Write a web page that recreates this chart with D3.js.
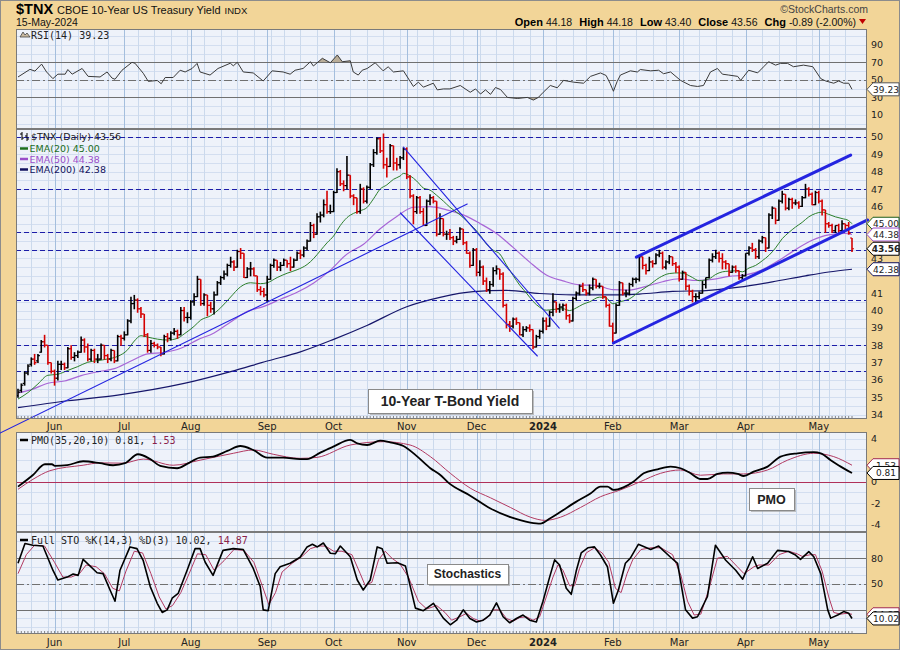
<!DOCTYPE html>
<html>
<head>
<meta charset="utf-8">
<script src="https://d3js.org/d3.v7.min.js"></script>
<style>
  html, body { margin: 0; padding: 0; background: #f2d598; }
  svg text { font-family: "DejaVu Sans", Verdana, sans-serif; fill: #222; }
  .mono { font-family: "DejaVu Sans Mono", monospace; }
  .arial { font-family: "Liberation Sans", Arial, sans-serif; }
</style>
</head>
<body>
<div id="vis"></div>
<script>
// trading calendar
var firstDay = '2023-05-16';
var lastDay = '2024-05-15';
var holidays = ['2023-05-29', '2023-06-19', '2023-07-04', '2023-09-04', '2023-11-23',
  '2023-12-25', '2024-01-01', '2024-01-15', '2024-02-19', '2024-03-29'];

// daily bars of $TNX (one value per trading day, month by month)
var opens = [
  35.1,35.4,35.8,36.4,36.9,37.2,37.1,37.6,38.2,38.0,37.0,
  36.5,36.1,36.9,36.9,36.7,37.8,37.3,37.4,37.6,38.3,37.9,37.2,37.7,37.2,37.2,38.0,37.4,37.2,37.7,37.1,38.5,
  38.4,38.6,39.4,40.4,40.6,40.1,39.8,38.6,37.7,38.1,38.0,37.9,37.5,38.5,38.4,38.7,38.8,38.6,40.0,39.6,
  39.6,40.5,40.8,41.8,40.4,40.9,40.3,40.1,40.9,41.6,41.9,42.1,42.6,42.8,42.5,43.4,43.3,41.9,42.4,42.4,42.0,41.2,41.1,
  40.9,41.8,42.6,42.9,42.5,42.6,42.9,42.7,42.5,42.9,43.3,43.2,43.6,44.0,44.9,44.4,45.4,45.5,46.1,45.7,
  45.7,46.8,48.0,47.3,47.2,47.8,46.6,46.5,45.7,47.0,46.3,47.1,48.4,49.1,49.9,49.2,48.4,48.3,49.5,48.5,48.4,48.8,
  49.3,47.7,46.6,45.7,46.5,45.7,44.9,46.3,46.5,46.3,44.4,45.3,44.4,44.4,44.2,44.0,44.1,44.7,43.9,43.3,42.6,
  43.5,42.2,42.5,41.7,41.2,41.5,42.3,42.4,42.1,40.3,39.2,39.1,39.5,39.3,38.6,38.9,39.0,38.9,37.9,38.5,
  38.8,39.4,39.1,39.9,40.5,40.1,40.2,40.3,39.7,39.4,40.7,41.0,41.4,41.2,41.0,41.3,41.8,41.4,41.4,40.8,40.3,
  39.1,38.7,40.3,41.6,41.0,41.0,41.5,41.8,41.8,43.1,42.6,42.3,42.8,42.7,43.2,43.3,42.5,42.8,43.1,42.7,
  42.5,41.8,42.2,41.4,41.1,40.8,40.8,41.0,41.5,41.9,42.9,43.1,43.3,43.0,42.8,42.7,42.2,42.5,42.3,41.9,
  42.0,43.3,43.6,43.5,43.1,44.0,44.2,43.6,45.5,45.9,45.2,46.3,46.7,45.9,46.4,46.2,46.2,46.0,46.5,47.0,46.7,46.1,
  46.8,46.3,45.8,45.0,44.9,44.6,44.9,44.6,45.0,44.9,44.18
];
var highs = [
  35.5,35.8,36.5,36.9,37.3,37.5,37.5,38.3,38.6,38.0,37.0,
  36.6,37.1,37.1,37.0,37.9,38.0,37.6,37.7,38.5,38.4,38.1,37.8,37.8,37.5,38.1,38.0,37.5,37.8,37.7,38.6,38.6,
  38.8,39.5,40.8,40.9,40.7,40.2,39.8,38.7,38.3,38.2,38.1,37.9,38.6,38.7,38.8,39.0,38.9,40.2,40.2,39.9,
  40.6,41.0,42.0,41.8,41.0,40.9,40.5,41.1,41.7,42.0,42.3,42.7,43.1,42.9,43.5,43.6,43.3,42.5,42.8,42.5,42.0,41.4,41.3,
  42.0,42.7,43.0,42.9,42.8,43.0,42.9,43.1,43.0,43.4,43.5,43.7,44.1,45.1,45.0,45.6,45.7,46.4,46.9,46.1,
  46.9,48.2,48.1,47.5,48.9,47.8,46.7,46.5,47.3,47.1,47.2,48.5,49.3,49.97,49.97,50.2,48.8,49.6,49.5,48.8,48.9,49.4,
  49.4,47.8,46.7,46.6,46.6,45.9,46.4,46.7,46.6,46.3,45.6,45.3,44.6,44.7,44.3,44.3,44.8,44.7,44.0,43.4,43.6,
  43.6,42.9,42.6,41.9,41.7,42.5,42.6,42.4,42.2,40.4,39.4,39.6,39.6,39.3,39.1,39.1,39.2,38.9,38.6,38.9,
  39.6,39.6,40.0,41.0,40.5,40.4,40.4,40.4,39.8,40.8,41.1,41.5,41.6,41.2,41.5,41.9,41.8,41.6,41.4,40.8,40.4,
  39.3,40.4,41.7,41.6,41.2,41.6,41.9,41.9,43.2,43.1,42.7,43.1,42.9,43.3,43.5,43.4,42.9,43.2,43.1,42.8,
  42.6,42.3,42.2,41.5,41.2,41.0,41.1,41.7,41.9,43.0,43.3,43.5,43.4,43.3,42.9,42.7,42.6,42.6,42.3,42.1,
  43.3,43.7,43.9,43.6,44.1,44.3,44.2,45.6,46.0,45.9,46.4,46.9,46.7,46.5,46.5,46.4,46.3,46.6,47.3,47.1,46.8,46.9,
  46.9,46.4,45.8,45.1,45.0,44.9,45.0,45.2,45.0,45.1,44.18
];
var lows = [
  35.0,35.3,35.7,36.3,36.8,36.9,37.0,37.6,37.9,36.9,36.4,
  35.7,36.0,36.6,36.6,36.7,37.2,37.1,37.3,37.6,37.6,37.1,37.1,37.0,37.0,37.2,37.2,37.0,37.1,37.0,37.1,38.0,
  38.3,38.6,39.3,40.1,39.9,39.6,38.5,37.6,37.6,37.9,37.8,37.4,37.5,38.2,38.3,38.6,38.4,38.6,39.4,39.3,
  39.5,40.3,40.8,40.3,40.3,39.7,39.9,39.8,40.9,41.5,41.8,42.0,42.5,42.3,42.5,43.0,41.9,41.9,42.0,42.0,41.1,40.9,40.8,
  40.5,41.8,42.5,42.3,42.3,42.6,42.5,42.3,42.5,42.9,43.0,43.1,43.5,44.0,44.2,44.4,45.1,45.4,45.6,45.6,
  45.7,46.8,47.2,46.9,47.0,46.5,46.1,45.6,45.6,46.2,46.2,47.0,48.3,49.0,49.1,48.2,47.7,48.3,48.1,48.1,48.2,48.7,
  47.6,46.5,45.0,45.6,45.6,44.9,44.9,46.1,46.2,44.3,44.4,44.3,44.1,44.1,43.8,43.9,44.1,43.8,43.3,42.5,42.6,
  42.0,42.0,41.5,41.1,41.0,41.4,42.1,41.8,40.2,39.0,38.8,39.0,39.2,38.6,38.5,38.8,38.8,37.8,37.9,38.4,
  38.7,38.9,39.1,39.7,39.9,39.9,40.0,39.5,39.3,39.4,40.6,40.9,41.1,40.9,40.9,41.2,41.3,41.3,40.7,40.2,39.1,
  38.2,38.7,40.3,40.9,40.8,40.9,41.4,41.6,41.7,42.4,42.1,42.3,42.5,42.7,43.1,42.4,42.4,42.7,42.6,42.2,
  41.7,41.8,41.2,40.9,40.5,40.4,40.7,41.0,41.3,41.9,42.8,43.0,42.8,42.4,42.4,42.0,42.2,42.2,41.8,41.8,
  42.0,43.2,43.4,43.0,43.0,43.9,43.4,43.6,45.3,45.0,45.2,46.2,45.8,45.8,45.9,46.1,45.9,46.0,46.5,46.6,46.1,46.1,
  46.2,45.5,44.5,44.8,44.5,44.5,44.4,44.5,44.7,44.4,43.40
];
var closes = [
  35.3,35.7,36.4,36.8,37.2,37.0,37.4,38.2,38.0,37.0,36.5,
  36.1,36.9,36.9,36.7,37.8,37.3,37.4,37.6,38.3,37.9,37.2,37.7,37.2,37.2,38.0,37.4,37.2,37.7,37.1,38.5,38.4,
  38.6,39.4,40.4,40.6,40.1,39.8,38.6,37.7,38.1,38.0,37.9,37.5,38.5,38.4,38.7,38.8,38.6,40.0,39.6,39.6,
  40.5,40.8,41.8,40.4,40.9,40.3,40.1,40.9,41.6,41.9,42.1,42.6,42.8,42.5,43.4,43.3,41.9,42.4,42.4,42.0,41.2,41.1,40.9,
  41.8,42.6,42.9,42.5,42.6,42.9,42.7,42.5,42.9,43.3,43.2,43.6,44.0,44.9,44.4,45.4,45.5,46.1,45.7,45.7,
  46.8,48.0,47.3,47.2,47.8,46.6,46.5,45.7,47.0,46.3,47.1,48.4,49.1,49.9,49.2,48.4,48.3,49.5,48.5,48.4,48.8,49.3,
  47.7,46.6,45.7,46.5,45.7,44.9,46.3,46.5,46.3,44.4,45.3,44.4,44.4,44.2,44.0,44.1,44.7,43.9,43.3,42.6,43.5,
  42.2,42.5,41.7,41.2,41.5,42.3,42.4,42.1,40.3,39.2,39.1,39.5,39.3,38.6,38.9,39.0,38.9,37.9,38.5,38.8,
  39.4,39.1,39.9,40.5,40.1,40.2,40.3,39.7,39.4,40.7,41.0,41.4,41.2,41.0,41.3,41.8,41.4,41.4,40.8,40.3,39.1,
  38.7,40.3,41.6,41.0,41.0,41.5,41.8,41.8,43.1,42.6,42.3,42.8,42.7,43.2,43.3,42.5,42.8,43.1,42.7,42.5,
  41.8,42.2,41.4,41.1,40.8,40.8,41.0,41.5,41.9,42.9,43.1,43.3,43.0,42.8,42.7,42.2,42.5,42.3,41.9,42.0,
  43.3,43.6,43.5,43.1,44.0,44.2,43.6,45.5,45.9,45.2,46.3,46.7,45.9,46.4,46.2,46.2,46.0,46.5,47.0,46.7,46.1,46.8,
  46.3,45.8,45.0,44.9,44.6,44.9,44.6,45.0,44.9,44.45,43.56
];

// overlays: [day index, value]
var ema20 = [[0,34.9],[3,35.27],[6,35.77],[9,36.27],[12,36.33],[15,36.55],[18,36.77],[21,37.02],[24,37.11],[27,37.21],[30,37.36],[33,37.74],[35,38.24],[37,38.55],[39,38.47],[42,38.35],[45,38.3],[48,38.4],[50,38.65],[53,39.09],[55,39.45],[58,39.7],[61,40.16],[64,40.78],[67,41.37],[70,41.6],[73,41.55],[75,41.6],[78,41.9],[81,42.15],[84,42.35],[87,42.65],[89,43.0],[91,43.45],[93,43.9],[95,44.3],[97,44.9],[99,45.35],[101,45.6],[103,45.75],[105,45.93],[107,46.44],[109,47.0],[111,47.24],[113,47.56],[115,47.75],[116,47.9],[118,47.76],[120,47.46],[122,47.06],[124,46.94],[126,46.64],[128,46.31],[130,45.95],[133,45.52],[135,45.17],[137,44.8],[139,44.36],[141,43.83],[143,43.48],[145,43.26],[147,42.62],[149,42.02],[151,41.46],[153,41.01],[155,40.53],[157,40.19],[159,40.02],[161,40.06],[164,40.1],[166,40.0],[168,40.15],[170,40.36],[172,40.5],[175,40.77],[177,40.73],[179,40.39],[181,40.5],[184,40.67],[187,41.09],[190,41.47],[193,41.89],[196,42.13],[199,42.17],[201,42.1],[203,41.9],[205,41.72],[208,41.83],[210,42.08],[212,42.23],[214,42.27],[216,42.29],[218,42.23],[220,42.45],[222,42.6],[224,42.87],[226,43.18],[228,43.61],[230,44.14],[232,44.5],[234,44.81],[236,45.08],[238,45.4],[240,45.59],[242,45.67],[244,45.54],[246,45.4],[248,45.3],[250,45.18],[251,45.00]];
var ema50 = [[0,35.25],[4,35.44],[9,35.81],[14,35.94],[19,36.25],[24,36.47],[29,36.65],[34,37.09],[39,37.5],[44,37.59],[49,37.83],[54,38.31],[59,38.71],[64,39.34],[69,39.95],[74,40.24],[79,40.65],[84,41.05],[89,41.59],[94,42.33],[99,43.25],[104,43.82],[109,44.71],[114,45.42],[119,45.95],[124,45.99],[129,45.8],[134,45.51],[139,45.02],[144,44.44],[149,43.64],[154,42.79],[159,42.05],[164,41.71],[169,41.48],[174,41.45],[179,41.2],[184,41.18],[189,41.39],[194,41.66],[199,41.83],[204,41.73],[209,41.79],[214,41.97],[219,42.05],[224,42.35],[229,42.89],[234,43.51],[239,44.05],[244,44.36],[249,44.44],[251,44.38]];
var ema200 = [[0,34.4],[15,34.8],[30,35.13],[50,35.8],[64,36.48],[75,37.09],[85,37.62],[95,38.34],[105,39.14],[117,40.22],[127,40.76],[137,41.09],[147,41.16],[157,40.98],[167,40.9],[177,40.9],[187,40.95],[197,41.1],[207,41.15],[217,41.35],[227,41.65],[237,42.0],[244,42.22],[251,42.38]];

// horizontal support / resistance levels and trend lines drawn on the chart
var levels = [50, 47, 44.5, 43.5, 40.6, 38, 36.5];
var thinLines = [
  [[-5.4, 32.94], [135.2, 46.14]],
  [[116.0, 49.42], [162.9, 38.99]],
  [[115.1, 45.62], [156.3, 37.38]]
];
var thickLines = [
  [[186.1, 43.08], [250.6, 48.96]],
  [[179.2, 38.13], [255.7, 45.22]]
];

// indicator panels: [day index, value]
var rsi = [[0,53.3],[3.6,62],[5.1,60],[7.1,68],[8.6,59],[10.5,51.4],[12,56.5],[14.2,56.5],[15,61.8],[16.3,56.5],[19.3,63],[21.1,54],[24.7,53.3],[26.8,59],[28.3,52],[29.2,50.7],[31.3,61],[34.3,70],[35.2,69],[37.7,57.5],[39.2,48.3],[41.9,49.3],[43.1,45.6],[44.3,52.7],[46.7,52.7],[48.8,61],[50.3,59],[52.4,63],[53.9,68.8],[54.8,59],[57.8,55.5],[60.2,63],[63.9,69],[64.8,66],[66,70],[67.8,59],[70.8,57.9],[73.8,48.7],[76.5,60.3],[79.8,59],[81.9,56.5],[83.4,61],[85.8,63],[88,70.7],[88.9,65.8],[91.6,74.6],[94,69.5],[96.1,78.4],[97.6,70.7],[100,71.8],[100.9,59],[102.4,55.5],[103.6,61],[105.1,63],[107.5,69.5],[109.9,60.3],[111.4,64.9],[113,59],[116,60.3],[119,42.5],[120.5,47.4],[122,41.7],[125,46.2],[126.2,38.6],[128,39.7],[130,39.7],[133.1,43.6],[136.1,35.9],[137.7,39.7],[139.2,33.9],[140.7,38.6],[142.2,33.5],[143.7,41.3],[145.2,39],[147.3,30],[150.3,28.8],[153.3,30],[155.1,27],[156.6,30],[158.1,35.9],[160.2,43.6],[162.3,41],[164.2,49.4],[167.2,47.4],[170.2,46.2],[172.3,54],[175.3,57.9],[177,55],[178.2,46],[179.2,37],[180.3,48],[181.3,55.5],[184.3,60.3],[186.4,59],[187.3,61.8],[190.4,60.3],[192.8,61],[194.3,57],[196.4,59],[199.4,49.4],[202.4,43.6],[204.5,42.5],[206.3,43.6],[208.4,59],[210.5,63],[212,56.5],[213.9,55.5],[216.6,54],[217.5,49.4],[219.9,61],[222.6,58],[224.4,64.9],[225.9,70.7],[228,66.8],[229.5,68.8],[231.6,68.8],[233.4,65],[236.4,66.8],[239.2,65],[241.6,51.4],[243.1,48.7],[245.5,46.2],[247,48.7],[248.5,46.2],[250,46.2],[251,39.23]];
var pmo = [[0,-0.46],[4.5,0.62],[8.1,1.62],[10.2,1.62],[11.1,1.47],[14.8,1.53],[19.6,1.9],[24.7,1.72],[28.6,1.53],[32.2,1.72],[36.1,2.55],[39.8,2.1],[42.8,1.47],[47.9,1.25],[50.9,1.65],[54.8,2.24],[58.7,2.33],[63,2.86],[66.9,3.32],[70.8,2.95],[75,2.24],[79.8,2.24],[84.9,2.1],[87,2.1],[91,2.7],[94.9,3.26],[100,3.88],[102.1,3.57],[105.1,3.41],[109,3.81],[112,3.66],[116,3.32],[120.2,2.33],[124.1,1.25],[127.1,0.62],[129.5,-0.09],[136.1,-1.3],[142.2,-2.5],[148.2,-3.3],[154.2,-3.8],[157.2,-3.9],[160.2,-3.4],[163.3,-2.8],[167.8,-1.9],[172.3,-1.1],[175.3,-0.46],[177.4,-0.46],[179.2,-0.77],[182.2,-0.53],[185.2,0],[188.3,0.78],[192.5,1.15],[196.4,1.4],[199.4,1.25],[202.4,0.78],[205.4,0.25],[207.5,0.25],[210.5,0.72],[213.6,0.84],[216.6,0.72],[218.4,0.53],[221.4,0.93],[225.6,1.4],[229.5,2.33],[234.6,2.64],[239.5,2.74],[241.6,2.64],[244.6,2.0],[247.6,1.4],[251,0.81]];
var pmoSignal = [[0,-0.71],[4.5,0.22],[9.6,1.02],[19.6,1.53],[24.7,1.75],[31.6,1.72],[37.7,2.1],[46.7,1.53],[54.8,2.0],[64.8,2.64],[70.8,2.95],[76.8,2.55],[84.9,2.17],[90,2.26],[100,3.41],[110,3.72],[118,3.41],[124.1,2.33],[130.1,0.78],[136.1,-0.6],[142.2,-1.5],[148.2,-2.4],[154.2,-3.3],[158.7,-3.6],[163.3,-3.3],[169.3,-2.4],[175.3,-1.4],[181.3,-0.77],[187.3,0],[193.4,0.78],[199.4,1.09],[205.4,0.6],[212.3,0.72],[218.4,0.72],[225.6,1.09],[231.6,2.0],[239.5,2.64],[245.5,2.33],[251,1.53]];
var stoK = [[0,74],[2.1,97],[4.5,95],[7.5,94],[10.5,66],[12,54.6],[14.8,58],[16.6,61.5],[18.1,60],[19.6,78.6],[23.8,63],[25.6,62],[27.7,43],[29.2,30],[30.7,66],[33.7,93],[35.8,91],[37.7,77],[39.8,47],[41.9,27.6],[43.4,17],[44.9,20],[46.4,33.5],[48.2,39],[50.9,66],[53.3,91],[54.8,91],[56.3,75.5],[58.7,60],[61.7,89],[64.8,91],[67.8,90],[70.8,68],[72.9,47],[73.8,20],[75.3,19],[77.4,62],[78.9,70],[81.9,74],[84.9,81],[87,93],[88.6,96],[90.1,93],[91.9,97.5],[94,85.6],[95.5,85],[97,94],[100,81.6],[102.1,54.6],[103.9,43],[106,54.6],[108.1,93],[109.6,91],[111.1,74],[114.2,74.6],[116.6,71],[119.6,22],[122,19],[125,27.6],[126.2,20.8],[128,10.4],[130.1,2.7],[132,8],[134,20],[136,10],[138,6],[140,8],[142,14],[144,28],[146,12],[148,5],[150,10],[152,14],[154,8],[156,6],[158,30],[160,58],[161.5,78],[163,72],[165,45],[166.5,38],[168,65],[169.5,86],[171.5,92],[173.5,93],[175.3,83.6],[177.4,70],[179.2,27.6],[180.7,43],[182.8,74],[184.3,80],[186.7,96],[190.4,90],[192.8,94],[196.4,81],[198.5,74],[200.9,20],[203,10.4],[204.5,12],[207.5,35.5],[209.9,95],[213,77.6],[216,66],[218.1,55.6],[221.1,81.6],[222.6,68],[225.6,74],[228.6,89],[231.9,87.6],[234,83.6],[235.5,78.6],[238,87.6],[239.5,81.6],[241.6,62],[243.7,20],[244.6,10.4],[246.7,14],[248.5,18],[250,16],[251,10.02]];
var stoD = [[0,62],[2.5,84],[5,95],[8,94],[11,75],[13.5,58],[16,58],[18.5,62],[20.5,72],[23.5,70],[26,62],[28.5,45],[30.5,42],[32.5,65],[35,88],[37.5,86],[40,62],[42.5,35],[44.5,21],[46.5,25],[49,40],[51.5,62],[54,85],[56.5,84],[59,66],[62,77],[65,90],[68,89],[71,75],[73.5,48],[75.5,26],[77.5,40],[79.5,64],[82.5,74],[85.5,82],[88,91],[90.5,94],[92.5,94],[95,88],[97.5,88],[100.5,84],[103,62],[104.5,48],[106.5,52],[108.5,78],[110.5,88],[112.5,80],[115,73],[117.5,58],[120.5,30],[123,21],[126,25],[128.5,17],[130.5,8],[133,12],[135,16],[137,10],[139,7],[141,10],[143,20],[145,20],[147,10],[149,7],[151,11],[153,12],[155,8],[157,12],[159,35],[161,58],[162.5,72],[164,66],[166,48],[167.5,48],[169,68],[171,86],[173.5,92],[175.8,86],[177.8,75],[179.8,45],[181.5,40],[183.3,62],[185,78],[187.5,90],[190.5,92],[193.5,92],[197,84],[199.5,60],[201.5,30],[203.5,14],[205.5,15],[208,45],[210.5,80],[213.5,82],[216.5,70],[218.5,62],[221.5,70],[223,72],[226,72],[229,84],[232,88],[234.5,85],[236,82],[238.5,84],[240,84],[242,65],[244,35],[245.5,17],[247.5,15],[249.5,16],[251,14.87]];

// axis tick labels
var priceTicks = [34,35,36,37,38,39,40,41,42,43,44,45,46,47,48,49,50];
var rsiTicks = [10,30,50,70,90];
var pmoTicks = [-4,-2,0,2,4];
var stoTicks = [20,50,80];

var W = 900, H = 650;
var left = 16, right = 867;
var pRsi = {top: 29, bottom: 129}, pPrice = {top: 129, bottom: 419},
    pPmo = {top: 432, bottom: 532}, pSto = {top: 532, bottom: 634};

var svg = d3.select('#vis').append('svg').attr('width', W).attr('height', H);
svg.append('rect').attr('x', 0.5).attr('y', 0.5).attr('width', W - 1).attr('height', H - 1)
  .attr('fill', '#f2d598').attr('stroke', '#8c8c8c');

var parse = d3.utcParse('%Y-%m-%d'), fmt = d3.utcFormat('%Y-%m-%d');
var dates = d3.utcDays(parse(firstDay), d3.utcDay.offset(parse(lastDay), 1)).filter(function(d) {
  var w = d.getUTCDay();
  return w > 0 && w < 6 && holidays.indexOf(fmt(d)) < 0;
});
var bars = dates.map(function(d, i) {
  return {i: i, o: opens[i], h: highs[i], l: lows[i], c: closes[i],
          up: i == 0 ? closes[i] >= opens[i] : closes[i] >= closes[i - 1]};
});

var monthStarts = [], weekStarts = [];
dates.forEach(function(d, i) {
  if (i == 0) return;
  if (d.getUTCMonth() != dates[i - 1].getUTCMonth()) monthStarts.push(i);
  if (d3.utcMonday.floor(d).getTime() > dates[i - 1].getTime()) weekStarts.push(i);
});

var x = d3.scaleLinear().domain([0, dates.length - 1]).range([18, 852]);
var yPrice = d3.scaleLinear().domain([33.75, 50.46]).range([pPrice.bottom, pPrice.top]);
var yRsi = d3.scaleLinear().domain([-6, 108]).range([pRsi.bottom, pRsi.top]);
var yPmo = d3.scaleLinear().domain([-4.68, 4.62]).range([pPmo.bottom, pPmo.top]);
var ySto = d3.scaleLinear().domain([-8, 110.3]).range([pSto.bottom, pSto.top]);

function last(a) { return a[a.length - 1][1]; }

function panel(p, y, step) {
  var g = svg.append('g');
  g.append('rect').attr('x', left).attr('y', p.top).attr('width', right - left)
    .attr('height', p.bottom - p.top).attr('fill', '#eef2fa');
  var lo = y.domain()[0], hi = y.domain()[1];
  g.selectAll('.h').data(d3.range(Math.ceil(lo / step) * step, hi, step)).enter().append('line')
    .attr('x1', left).attr('x2', right).attr('y1', function(d) { return Math.round(y(d)) + 0.5; })
    .attr('y2', function(d) { return Math.round(y(d)) + 0.5; })
    .attr('stroke', '#d3def0').attr('stroke-width', 1);
  g.selectAll('.w').data(weekStarts).enter().append('line')
    .attr('x1', function(d) { return Math.round(x(d)) + 0.5; }).attr('x2', function(d) { return Math.round(x(d)) + 0.5; })
    .attr('y1', p.top).attr('y2', p.bottom).attr('stroke', '#cbd9ec');
  g.selectAll('.m').data(monthStarts).enter().append('line')
    .attr('x1', function(d) { return Math.round(x(d)) + 0.5; }).attr('x2', function(d) { return Math.round(x(d)) + 0.5; })
    .attr('y1', p.top).attr('y2', p.bottom).attr('stroke', '#a4bedd');
  return g;
}

function frame(p) {
  svg.append('rect').attr('x', left + 0.5).attr('y', p.top + 0.5).attr('width', right - left - 1)
    .attr('height', p.bottom - p.top - 1).attr('fill', 'none').attr('stroke', '#7a7a7a');
}

function refLine(y, v, dash, color) {
  svg.append('line').attr('x1', left).attr('x2', right)
    .attr('y1', Math.round(y(v)) + 0.5).attr('y2', Math.round(y(v)) + 0.5)
    .attr('stroke', color || '#707070').attr('stroke-dasharray', dash || null);
}

function curve(data, y, color, width, smooth) {
  var line = d3.line().x(function(d) { return x(d[0]); }).y(function(d) { return y(d[1]); })
    .curve(smooth ? d3.curveMonotoneX : d3.curveLinear);
  svg.append('path').datum(data).attr('d', line).attr('fill', 'none')
    .attr('stroke', color).attr('stroke-width', width).attr('stroke-linejoin', 'round');
}

// right-hand value labels; the ones sitting under a value tag are hidden, as on the chart
function axisLabels(vals, y, tagVals) {
  var shown = vals.filter(function(v) {
    return tagVals.every(function(t) { return Math.abs(y(v) - y(t)) >= 7.5; });
  });
  svg.append('g').selectAll('text').data(shown).enter().append('text')
    .attr('x', 871).attr('y', function(d) { return y(d) + 3.5; })
    .attr('font-size', 9.5).attr('fill', '#333')
    .text(function(d) { return d; });
}

function tag(yv, label, stroke, bold) {
  var g = svg.append('g');
  g.append('path').attr('d', 'M867,' + yv + 'l6,-6.5h26v13h-26z').attr('fill', '#fff')
    .attr('stroke', stroke).attr('stroke-width', 1);
  g.append('text').attr('x', 886).attr('y', yv + 3.3).attr('text-anchor', 'middle')
    .attr('font-size', 9).attr('font-weight', bold ? 'bold' : 'normal').text(label);
}

function note(nx, ny, nw, nh, size, label) {
  svg.append('rect').attr('x', nx + 2).attr('y', ny + 2).attr('width', nw).attr('height', nh)
    .attr('fill', '#9a9a9a').attr('opacity', 0.6);
  svg.append('rect').attr('x', nx + 0.5).attr('y', ny + 0.5).attr('width', nw).attr('height', nh)
    .attr('fill', '#fff').attr('stroke', '#8a8a8a');
  svg.append('text').attr('class', 'arial').attr('x', nx + nw / 2).attr('y', ny + nh / 2 + size * 0.36)
    .attr('text-anchor', 'middle').attr('font-size', size).attr('font-weight', 'bold')
    .attr('fill', '#000').text(label);
}

function dayTicks(p) {
  svg.append('g').selectAll('line').data(bars).enter().append('line')
    .attr('x1', function(d) { return x(d.i); }).attr('x2', function(d) { return x(d.i); })
    .attr('y1', p.bottom - 3).attr('y2', p.bottom).attr('stroke', '#666').attr('stroke-width', 0.8);
}

// ---------- RSI ----------
panel(pRsi, yRsi, 10);
svg.append('clipPath').attr('id', 'rsiHi').append('rect').attr('x', left).attr('y', pRsi.top)
  .attr('width', right - left).attr('height', yRsi(70) - pRsi.top);
svg.append('clipPath').attr('id', 'rsiLo').append('rect').attr('x', left).attr('y', yRsi(30))
  .attr('width', right - left).attr('height', pRsi.bottom - yRsi(30));
var rsiArea70 = d3.area().x(function(d) { return x(d[0]); }).y0(yRsi(70)).y1(function(d) { return yRsi(d[1]); });
var rsiArea30 = d3.area().x(function(d) { return x(d[0]); }).y0(yRsi(30)).y1(function(d) { return yRsi(d[1]); });
svg.append('path').datum(rsi).attr('d', rsiArea70).attr('fill', '#b9ad98').attr('clip-path', 'url(#rsiHi)');
svg.append('path').datum(rsi).attr('d', rsiArea30).attr('fill', '#b9ad98').attr('clip-path', 'url(#rsiLo)');
refLine(yRsi, 70); refLine(yRsi, 30); refLine(yRsi, 50, '8,3,2,3');
curve(rsi, yRsi, '#3a3a3a', 1, false);
frame(pRsi);
svg.append('path').attr('d', 'M20,37 l3,-5 l2,3 l2,-2 l3,4 z').attr('fill', '#c9b9a0').attr('stroke', '#444').attr('stroke-width', 0.8);
svg.append('text').attr('class', 'mono').attr('x', 31).attr('y', 38.5).attr('font-size', 10)
  .text('RSI(14) ' + last(rsi).toFixed(2));
axisLabels(rsiTicks, yRsi, [last(rsi)]);
tag(yRsi(last(rsi)), last(rsi).toFixed(2), '#555', false);

// ---------- price ----------
panel(pPrice, yPrice, 0.5);
curve(ema200, yPrice, '#16166a', 1.2, true);
curve(ema50, yPrice, '#a866d6', 1.2, true);
curve(ema20, yPrice, '#2b7f2b', 1, true);

svg.append('g').selectAll('line').data(levels).enter().append('line')
  .attr('x1', left).attr('x2', right)
  .attr('y1', function(d) { return Math.round(yPrice(d)) + 0.5; })
  .attr('y2', function(d) { return Math.round(yPrice(d)) + 0.5; })
  .attr('stroke', '#1c1ca8').attr('stroke-width', 1.2).attr('stroke-dasharray', '5,3');

var gb = svg.append('g');
var bar = gb.selectAll('g').data(bars).enter().append('g')
  .attr('stroke', function(d) { return d.up ? '#000' : '#d40000'; });
bar.append('line').attr('x1', function(d) { return x(d.i); }).attr('x2', function(d) { return x(d.i); })
  .attr('y1', function(d) { return yPrice(d.h); }).attr('y2', function(d) { return yPrice(d.l) + 0.5; })
  .attr('stroke-width', 1.6);
bar.append('line').attr('x1', function(d) { return x(d.i) - 2; }).attr('x2', function(d) { return x(d.i); })
  .attr('y1', function(d) { return yPrice(d.o); }).attr('y2', function(d) { return yPrice(d.o); })
  .attr('stroke-width', 1.2);
bar.append('line').attr('x1', function(d) { return x(d.i); }).attr('x2', function(d) { return x(d.i) + 2; })
  .attr('y1', function(d) { return yPrice(d.c); }).attr('y2', function(d) { return yPrice(d.c); })
  .attr('stroke-width', 1.2);

function trend(seg, w) {
  svg.append('line').attr('x1', x(seg[0][0])).attr('y1', yPrice(seg[0][1]))
    .attr('x2', x(seg[1][0])).attr('y2', yPrice(seg[1][1]))
    .attr('stroke', '#2424e0').attr('stroke-width', w).attr('stroke-linecap', 'round');
}
thinLines.forEach(function(s) { trend(s, 1.1); });
thickLines.forEach(function(s) { trend(s, 3); });

dayTicks(pPrice);
frame(pPrice);
note(368, 389, 164, 24, 14, '10-Year T-Bond Yield');

// legend
var lg = svg.append('g');
lg.append('path').attr('d', 'M22,132v8M20,134h2M22,138h2M27,133v8M25,136h2M27,139h2')
  .attr('stroke', '#000').attr('stroke-width', 1).attr('fill', 'none');
lg.append('text').attr('x', 31).attr('y', 140).attr('font-size', 9.5).attr('fill', '#222')
  .text('$TNX (Daily) ' + closes[closes.length - 1].toFixed(2));
var emaLegend = [
  {name: 'EMA(20)', v: last(ema20), color: '#1c6e1c'},
  {name: 'EMA(50)', v: last(ema50), color: '#9a4ec9'},
  {name: 'EMA(200)', v: last(ema200), color: '#12125e'}
];
emaLegend.forEach(function(e, k) {
  var yy = 148.5 + k * 10.5;
  lg.append('line').attr('x1', 20).attr('x2', 28).attr('y1', yy).attr('y2', yy)
    .attr('stroke', e.color).attr('stroke-width', 2.5);
  lg.append('text').attr('x', 29.5).attr('y', yy + 3.5).attr('font-size', 9.5)
    .style('fill', e.color).text(e.name + ' ' + e.v.toFixed(2));
});

var lastClose = closes[closes.length - 1];
axisLabels(priceTicks, yPrice, [last(ema20), last(ema50), last(ema200), lastClose]);
tag(yPrice(last(ema20)), last(ema20).toFixed(2), '#1c5e1c', false);
tag(yPrice(last(ema50)), last(ema50).toFixed(2), '#9a4ec9', false);
tag(yPrice(last(ema200)), last(ema200).toFixed(2), '#12125e', false);
tag(yPrice(lastClose), lastClose.toFixed(2), '#000', true);

// month labels
function monthLabels(yy) {
  svg.append('g').selectAll('text').data(monthStarts).enter().append('text')
    .attr('x', function(d) { return x(d); }).attr('y', yy).attr('text-anchor', 'middle')
    .attr('font-size', 10).attr('fill', '#222')
    .attr('font-weight', function(d) { return dates[d].getUTCMonth() == 0 ? 'bold' : 'normal'; })
    .text(function(d) {
      return dates[d].getUTCMonth() == 0 ? d3.utcFormat('%Y')(dates[d]) : d3.utcFormat('%b')(dates[d]);
    });
}
monthLabels(429.5);

// ---------- PMO ----------
panel(pPmo, yPmo, 1);
refLine(yPmo, 0, null, '#b0305a');
curve(pmoSignal, yPmo, '#b23a62', 1, true);
curve(pmo, yPmo, '#000', 1.8, true);
frame(pPmo);
note(749, 488, 45, 22, 12.5, 'PMO');
svg.append('line').attr('x1', 20).attr('x2', 28).attr('y1', 440).attr('y2', 440).attr('stroke', '#000').attr('stroke-width', 2.5);
var pt = svg.append('text').attr('class', 'mono').attr('x', 31).attr('y', 443.5).attr('font-size', 10);
pt.append('tspan').text('PMO(35,20,10) ' + last(pmo).toFixed(2) + ', ');
pt.append('tspan').style('fill', '#8a1f4a').text(last(pmoSignal).toFixed(2));
axisLabels(pmoTicks, yPmo, [last(pmo), last(pmoSignal)]);
tag(yPmo(last(pmoSignal)), last(pmoSignal).toFixed(2), '#a0284f', false);
tag(yPmo(last(pmo)), last(pmo).toFixed(2), '#000', false);

// ---------- Stochastics ----------
panel(pSto, ySto, 10);
refLine(ySto, 80); refLine(ySto, 20); refLine(ySto, 50, '8,3,2,3');
curve(stoD, ySto, '#b23a62', 1, false);
curve(stoK, ySto, '#000', 1.6, false);
dayTicks(pSto);
frame(pSto);
note(427, 564, 81, 20, 12, 'Stochastics');
svg.append('line').attr('x1', 20).attr('x2', 28).attr('y1', 540).attr('y2', 540).attr('stroke', '#000').attr('stroke-width', 2.5);
var st = svg.append('text').attr('class', 'mono').attr('x', 31).attr('y', 543.5).attr('font-size', 10);
st.append('tspan').text('Full STO %K(14,3) %D(3) ' + last(stoK).toFixed(2) + ', ');
st.append('tspan').style('fill', '#8a1f4a').text(last(stoD).toFixed(2));
axisLabels(stoTicks, ySto, [last(stoK), last(stoD)]);
tag(ySto(last(stoD)), last(stoD).toFixed(2), '#a0284f', false);
tag(ySto(last(stoK)), last(stoK).toFixed(2), '#000', false);
monthLabels(645.5);

// ---------- header ----------
var hd = svg.append('text').attr('class', 'arial').attr('x', 16).attr('y', 14);
hd.append('tspan').attr('font-size', 14.5).attr('font-weight', 'bold').style('fill', '#000').text('$TNX');
hd.append('tspan').attr('font-size', 11).attr('dx', 4).style('fill', '#111').text('CBOE 10-Year US Treasury Yield');
hd.append('tspan').attr('font-size', 9.5).attr('dx', 4).style('fill', '#111').text('INDX');
svg.append('text').attr('class', 'arial').attr('x', 16).attr('y', 26).attr('font-size', 10.5)
  .style('fill', '#111').text('15-May-2024');
svg.append('text').attr('class', 'arial').attr('x', 868).attr('y', 13).attr('text-anchor', 'end')
  .attr('font-size', 10.5).style('fill', '#444').text('\u00a9StockCharts.com');

var lb = bars[bars.length - 1], pb = bars[bars.length - 2];
var chg = lb.c - pb.c;
var quote = [['Open', lb.o.toFixed(2)], ['High', lb.h.toFixed(2)], ['Low', lb.l.toFixed(2)],
  ['Close', lb.c.toFixed(2)], ['Chg', chg.toFixed(2) + ' (' + (chg / pb.c * 100).toFixed(2) + '%)']];
var qt = svg.append('text').attr('class', 'arial').attr('x', 856).attr('y', 26).attr('text-anchor', 'end');
quote.forEach(function(q, k) {
  qt.append('tspan').attr('font-size', 11).attr('font-weight', 'bold').attr('dx', k ? 7 : 0).style('fill', '#000').text(q[0]);
  qt.append('tspan').attr('font-size', 10.5).attr('dx', 3).style('fill', '#111').text(q[1]);
});
svg.append('path').attr('d', 'M859,19h7l-3.5,5z').attr('fill', '#c00000');
</script>
</body>
</html>
